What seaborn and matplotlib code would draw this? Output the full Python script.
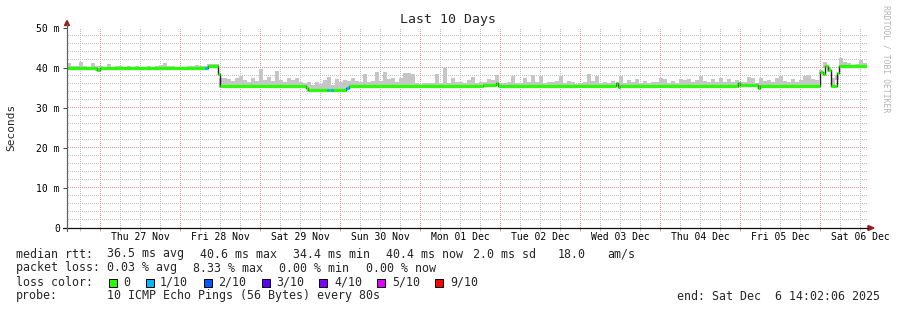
import numpy as np
import pandas as pd
import matplotlib
matplotlib.use("Agg")
import matplotlib.pyplot as plt
import seaborn as sns
from matplotlib.patches import Rectangle, Polygon
from matplotlib.lines import Line2D

# ---------------- data ----------------
start_time = pd.Timestamp("2025-11-26 14:02:06")
end_time = pd.Timestamp("2025-12-06 14:02:06")

# median RTT steps: segment start (hours after start), median (ms), lost pings of 10
seg_start_h = [0.0, 9.0, 9.9, 41.4, 42.3, 45.3, 45.9, 71.7, 72.3, 78.0, 78.6,
               79.2, 79.8, 83.7, 84.6, 124.8, 128.7, 129.3, 164.7, 165.3, 165.9,
               201.3, 201.9, 207.3, 207.9, 225.9, 226.8, 227.4, 228.3, 229.2,
               231.0, 231.6]
median_ms = [40.0, 39.6, 40.0, 40.0, 40.6, 38.5, 35.5, 35.1, 34.4, 34.4, 34.4,
             34.4, 34.4, 34.9, 35.5, 35.7, 36.2, 35.6, 36.3, 35.2, 35.5,
             36.3, 35.7, 35.0, 35.5, 39.0, 38.6, 40.5, 39.4, 35.6,
             38.7, 40.4]
loss_of_10 = [0, 0, 0, 1, 0, 0, 0, 0, 0, 1, 0,
              1, 0, 1, 0, 0, 0, 0, 0, 0, 0,
              0, 0, 0, 0, 0, 0, 0, 0, 0,
              0, 0]

# smoke (upper ping spread) per 1.2 h bin, ms
smoke_top_ms = [
    41.2, 40.6, 40.4, 41.6, 40.5, 40.3, 41.2, 40.4, 40.5, 40.3,
    41.1, 40.3, 40.5, 40.4, 40.3, 40.5, 40.3, 40.4, 40.3, 40.2,
    40.5, 40.3, 40.4, 40.8, 41.2, 40.5, 40.4, 40.3, 40.2, 40.3,
    40.4, 40.6, 40.7, 40.4, 40.6, 41.0, 41.1, 40.9, 37.6, 37.6,
    37.2, 36.8, 37.4, 38.0, 37.0, 36.6, 37.5, 36.8, 39.8, 37.0,
    37.8, 36.8, 39.2, 37.0, 36.6, 37.5, 37.0, 37.4, 36.5, 36.2,
    36.6, 35.8, 36.5, 36.0, 37.0, 37.7, 35.8, 37.2, 36.5, 37.0,
    36.8, 37.5, 36.8, 36.6, 38.5, 36.6, 36.8, 38.9, 36.8, 38.9,
    37.2, 37.4, 36.6, 37.6, 38.7, 38.7, 38.4, 36.3, 36.0, 36.2,
    36.2, 36.3, 38.5, 36.2, 40.0, 36.3, 37.5, 36.5, 36.5, 36.2,
    37.0, 37.8, 36.3, 36.5, 36.4, 37.2, 37.0, 38.2, 36.2, 36.3,
    36.4, 38.0, 36.3, 36.2, 37.5, 36.4, 38.2, 36.6, 38.0, 36.2,
    36.5, 36.4, 36.7, 38.0, 36.3, 36.8, 36.6, 36.0, 36.2, 36.4,
    38.5, 36.8, 38.0, 36.2, 36.5, 36.3, 36.7, 36.3, 38.0, 36.2,
    37.0, 36.4, 37.2, 36.3, 36.8, 36.3, 36.5, 36.4, 37.4, 37.2,
    36.3, 36.7, 36.2, 37.2, 37.0, 37.2, 36.5, 37.0, 38.0, 36.8,
    36.4, 37.2, 36.5, 37.6, 36.6, 37.2, 36.5, 37.0, 36.6, 36.4,
    37.8, 37.5, 36.3, 37.4, 36.8, 37.0, 36.4, 37.6, 38.0, 36.7,
    36.5, 37.3, 36.5, 37.0, 37.9, 38.2, 37.3, 37.0, 39.5, 41.4,
    40.2, 37.4, 37.0, 42.6, 41.6, 41.2, 40.8, 41.0, 42.0, 41.2,
]
smoke_bin_h = 1.2

day_labels = ["Thu 27 Nov", "Fri 28 Nov", "Sat 29 Nov", "Sun 30 Nov", "Mon 01 Dec",
              "Tue 02 Dec", "Wed 03 Dec", "Thu 04 Dec", "Fri 05 Dec", "Sat 06 Dec"]
ytick_vals = [0, 10, 20, 30, 40, 50]
ytick_labels = ["0", "10 m", "20 m", "30 m", "40 m", "50 m"]

loss_labels = ["0", "1/10", "2/10", "3/10", "4/10", "5/10", "9/10"]
loss_colors = ["#26ff00", "#00b8ff", "#0059ff", "#5e00ff", "#7e00ff", "#dd00ff", "#ff0000"]
loss_color_by_count = {0: "#26ff00", 1: "#00b8ff", 2: "#0059ff", 3: "#5e00ff",
                       4: "#7e00ff", 5: "#dd00ff", 9: "#ff0000"}

# ---------------- style ----------------
sns.set_theme(style="white")
plt.rcParams["font.family"] = ["DejaVu Sans Mono", "DejaVu Sans"]

W, H = 897, 310
fig = plt.figure(figsize=(W / 100, H / 100), dpi=100)
fig.patch.set_facecolor("white")
ax = fig.add_axes([67 / W, (H - 228) / H, 800 / W, 200 / H])
ax.set_facecolor("white")
total_h = (end_time - start_time) / pd.Timedelta(hours=1)
ax.set_xlim(0, total_h)
ax.set_ylim(0, 50)
for s in ax.spines.values():
    s.set_visible(False)

def hours(ts):
    return (ts - start_time) / pd.Timedelta(hours=1)

# grid drawn as 1-pixel dots (every second pixel)
six_h = pd.date_range("2025-11-26 18:00", "2025-12-06 12:00", freq="6h")
midn = [hours(t) for t in six_h if t.hour == 0]
minor_x = [hours(t) for t in six_h if t.hour != 0]
px_h = total_h / 800.0   # hours per pixel
px_ms = 50.0 / 200.0     # ms per pixel
dots_along_x = np.arange(0.5 * px_h, total_h, 2 * px_h)
dots_along_y = np.arange(0.5 * px_ms, 50, 2 * px_ms)

def dotted_h(levels, color, z):
    for v in levels:
        ax.plot(dots_along_x, np.full_like(dots_along_x, v), ",", color=color,
                zorder=z)

def dotted_v(positions, color, z):
    for p in positions:
        ax.plot(np.full_like(dots_along_y, p), dots_along_y, ",", color=color,
                zorder=z)

gray_grid = "#c0c0c0"
red_grid = "#ea9090"
dotted_h([v for v in range(2, 50, 2) if v % 10], gray_grid, 0)
dotted_v(minor_x, gray_grid, 0)
dotted_h([10, 20, 30, 40, 50], red_grid, 0.5)
dotted_v(midn, red_grid, 0.5)

# little ticks below x axis
ax.vlines(minor_x, -0.7, 0, colors=gray_grid, linewidth=0.72, clip_on=False)
ax.vlines(midn, -0.7, 0, colors=red_grid, linewidth=0.72, clip_on=False)

# smoke: continuous band just above the median plus spikes
seg_start = np.array(seg_start_h)
med = np.array(median_ms)
centers = smoke_bin_h * (np.arange(len(smoke_top_ms)) + 0.5)
idx = np.searchsorted(seg_start, centers, side="right") - 1
base = med[idx] - 0.4
tops = np.array(smoke_top_ms)
band_top = np.minimum(tops, med[idx] + 0.7)
smoke_col = "#c6c6c6"
ax.bar(centers, band_top - base, bottom=base, width=smoke_bin_h, color=smoke_col,
       linewidth=0, zorder=1)
ax.bar(centers, tops - base, bottom=base, width=smoke_bin_h * 0.85, color=smoke_col,
       linewidth=0, zorder=1)

# median: black step line + loss coloured thick segments
seg_end = seg_start_h[1:] + [total_h]
step_df = pd.DataFrame({"h": seg_start_h + [total_h], "ms": median_ms + [median_ms[-1]]})
sns.lineplot(data=step_df, x="h", y="ms", drawstyle="steps-post", color="#202020",
             linewidth=1.0, ax=ax, zorder=2, estimator=None, sort=False)
ax.hlines(median_ms, seg_start_h, seg_end,
          colors=[loss_color_by_count[c] for c in loss_of_10], linewidth=2.3, zorder=3)

# ticks
noons = pd.date_range("2025-11-27 12:00", periods=10, freq="D")
ax.set_xticks([hours(t) for t in noons])
ax.set_xticklabels(day_labels, fontsize=7)
ax.set_yticks(ytick_vals)
ax.set_yticklabels(ytick_labels, fontsize=7)
ax.tick_params(axis="x", length=0, pad=3.2, colors="black")
ax.tick_params(axis="y", length=2.9, width=0.72, pad=2.2, color="#404040", left=True,
               labelcolor="black")
ax.set_xlabel("")
ax.set_ylabel("")

# axes lines and arrows (pixel coordinates)
def fx(x):
    return x / W

def fy(y):
    return 1 - y / H

fig.add_artist(Line2D([fx(63), fx(868)], [fy(228), fy(228)], color="#101010",
                      linewidth=0.9))
fig.add_artist(Line2D([fx(67), fx(67)], [fy(231), fy(24)], color="#606060",
                      linewidth=0.9))
fig.add_artist(Polygon([[fx(868), fy(225.5)], [fx(874), fy(228)], [fx(868), fy(230.5)]],
                       closed=True, color="#9b1c1c", transform=fig.transFigure))
fig.add_artist(Polygon([[fx(64.5), fy(25.5)], [fx(67), fy(20.5)], [fx(69.5), fy(25.5)]],
                       closed=True, color="#9b1c1c", transform=fig.transFigure))

# texts
fig.text(fx(448), fy(19), "Last 10 Days", ha="center", va="center", fontsize=9.5)
fig.text(fx(11), fy(127), "Seconds", ha="center", va="center", rotation=90, fontsize=8)
fig.text(fx(886), fy(59), "RRDTOOL / TOBI OETIKER", ha="center", va="center",
         rotation=-90, fontsize=5.9, color="#b4b4b4")

fs = 8.4
def t(x, y, s, **kw):
    fig.text(fx(x), fy(y), s, ha=kw.pop("ha", "left"), va="center", fontsize=fs, **kw)

t(16, 254, "median rtt:")
t(107, 254, "36.5 ms avg")
t(200, 254, "40.6 ms max")
t(293, 254, "34.4 ms min")
t(386, 254, "40.4 ms now")
t(473, 254, "2.0 ms sd")
t(558, 254, "18.0")
t(607, 254, "am/s")

t(16, 268, "packet loss:")
t(107, 268, "0.03 % avg")
t(193, 268, "8.33 % max")
t(279, 268, "0.00 % min")
t(366, 268, "0.00 % now")

t(16, 282, "loss color:")
sq_x = [109, 146, 204, 262, 319, 377, 435]
lab_x = [123, 160, 218, 276, 334, 392, 450]
for sx, lx, lab, col in zip(sq_x, lab_x, loss_labels, loss_colors):
    fig.add_artist(Rectangle((fx(sx), fy(286.5)), 8 / W, 8 / H, facecolor=col,
                             edgecolor="black", linewidth=0.7, transform=fig.transFigure))
    t(lx, 282, lab)

t(16, 296, "probe:")
t(107, 296, "10 ICMP Echo Pings (56 Bytes) every 80s")
t(880, 296, "end: Sat Dec  6 14:02:06 2025", ha="right")

fig.savefig("out.png", dpi=100, facecolor="white")
